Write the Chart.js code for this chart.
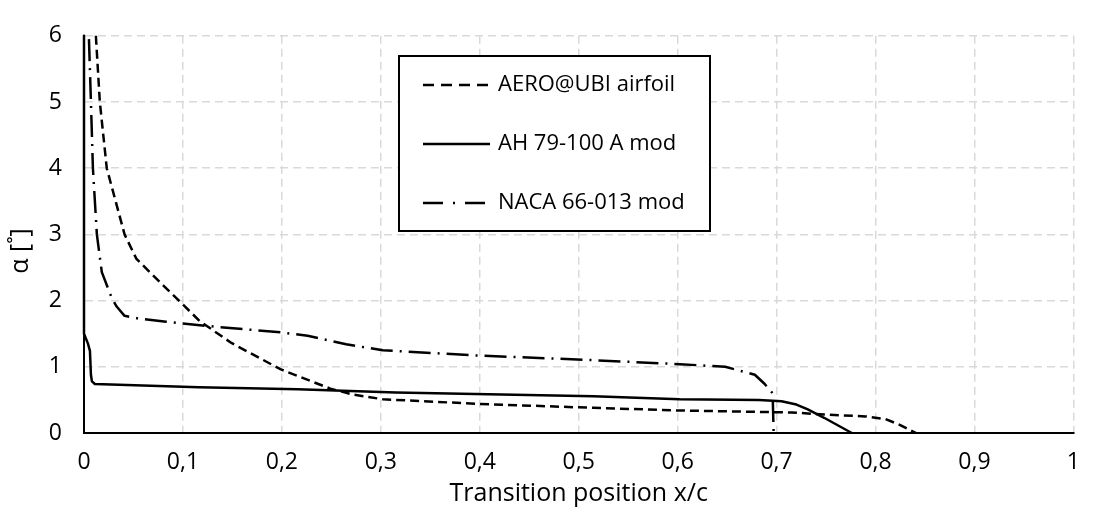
<!DOCTYPE html>
<html><head><meta charset="utf-8">
<script src="https://cdn.jsdelivr.net/npm/chart.js@4.4.0/dist/chart.umd.min.js"></script>
<style>html,body{margin:0;padding:0;background:#fff;}</style>
</head><body>
<canvas id="c" width="1096" height="509"></canvas>
<script>
// ---- data ----
const seriesNames = ['AERO@UBI airfoil', 'AH 79-100 A mod', 'NACA 66-013 mod'];

const aeroX = [0.012, 0.016, 0.023, 0.041, 0.053, 0.080, 0.100, 0.117, 0.149, 0.199, 0.249, 0.272, 0.302, 0.398, 0.515, 0.602, 0.715, 0.748, 0.790, 0.810, 0.825, 0.841];
const aeroY = [6.00, 5.00, 4.00, 3.00, 2.63, 2.23, 1.94, 1.69, 1.36, 0.96, 0.67, 0.58, 0.51, 0.44, 0.38, 0.34, 0.31, 0.28, 0.25, 0.21, 0.12, 0.00];

const ahX = [0.000, 0.000, 0.004, 0.006, 0.007, 0.008, 0.011, 0.116, 0.216, 0.315, 0.515, 0.602, 0.682, 0.705, 0.720, 0.731, 0.748, 0.776];
const ahY = [6.00, 1.50, 1.35, 1.24, 0.88, 0.78, 0.74, 0.69, 0.66, 0.61, 0.555, 0.51, 0.50, 0.48, 0.43, 0.36, 0.23, 0.00];

const nacaX = [0.005, 0.007, 0.009, 0.013, 0.018, 0.028, 0.033, 0.041, 0.055, 0.083, 0.122, 0.199, 0.226, 0.265, 0.302, 0.398, 0.515, 0.602, 0.648, 0.678, 0.688, 0.696, 0.697];
const nacaY = [5.95, 5.00, 4.00, 3.00, 2.43, 2.04, 1.91, 1.77, 1.73, 1.68, 1.62, 1.52, 1.47, 1.34, 1.25, 1.17, 1.10, 1.04, 1.00, 0.88, 0.74, 0.60, 0.00];

const xTickLabels = ['0', '0,1', '0,2', '0,3', '0,4', '0,5', '0,6', '0,7', '0,8', '0,9', '1'];
const yTickLabels = ['0', '1', '2', '3', '4', '5', '6'];
const xTitle = 'Transition position x/c';
const yTitle = 'α [˚]';

// ---- build ----
const toPts = (xs, ys) => xs.map((x, i) => ({x: x, y: ys[i]}));
const FONT = 'Open Sans';
const TXT = '#000';

const dashes = [[9, 5], [], [22, 7, 2, 7]];
const legendDashes = [[11, 7], [], [20, 10, 2, 10]];

const legendPlugin = {
  id: 'boxLegend',
  afterDatasetsDraw(chart) {
    const ctx = chart.ctx;
    const bx = 399, by = 56, bw = 311, bh = 175;
    ctx.save();
    ctx.fillStyle = '#fff';
    ctx.fillRect(bx, by, bw, bh);
    ctx.lineWidth = 2;
    ctx.strokeStyle = '#000';
    ctx.strokeRect(bx, by, bw, bh);
    const rows = [85, 144, 203];
    chart.data.datasets.forEach((ds, i) => {
      const y = rows[i];
      ctx.beginPath();
      ctx.setLineDash(legendDashes[i]);
      ctx.lineWidth = 2.5;
      ctx.strokeStyle = '#000';
      ctx.moveTo(423, y);
      ctx.lineTo(490, y);
      ctx.stroke();
      ctx.setLineDash([]);
      ctx.fillStyle = TXT;
      ctx.font = '22px "' + FONT + '"';
      ctx.textBaseline = 'middle';
      ctx.textAlign = 'left';
      ctx.fillText(ds.label, 498, y);
    });
    ctx.restore();
  }
};

const yTitlePlugin = {
  id: 'yTitleDraw',
  afterDraw(chart) {
    const ctx = chart.ctx;
    ctx.save();
    ctx.translate(21, 251);
    ctx.rotate(-Math.PI / 2);
    ctx.fillStyle = TXT;
    ctx.font = '25px "' + FONT + '"';
    ctx.textAlign = 'center';
    ctx.textBaseline = 'middle';
    ctx.fillText(yTitle, 0, 0);
    ctx.restore();
  }
};

const datasets = [
  {label: seriesNames[0], data: toPts(aeroX, aeroY), borderDash: dashes[0]},
  {label: seriesNames[1], data: toPts(ahX, ahY), borderDash: dashes[1]},
  {label: seriesNames[2], data: toPts(nacaX, nacaY), borderDash: dashes[2]}
].map(d => Object.assign(d, {
  borderColor: '#000', borderWidth: 2.5, pointRadius: 0, tension: 0,
  fill: false, clip: 6, borderCapStyle: 'butt', borderJoinStyle: 'round'
}));

new Chart(document.getElementById('c'), {
  type: 'line',
  data: {datasets: datasets},
  options: {
    responsive: false,
    animation: false,
    devicePixelRatio: 1,
    layout: {padding: {top: 22, right: 10, left: 0, bottom: 0}},
    plugins: {legend: {display: false}, tooltip: {enabled: false}},
    scales: {
      x: {
        type: 'linear', min: 0, max: 1,
        afterFit: s => { s.height = 76; },
        ticks: {
          stepSize: 0.1, padding: 16, color: TXT,
          font: {family: FONT, size: 23},
          callback: (v, i) => xTickLabels[i]
        },
        grid: {color: '#d9d9d9', lineWidth: 1.5, drawTicks: false},
        border: {display: true, color: '#000', width: 2, dash: [8, 5]},
        title: {display: true, text: xTitle, color: TXT, font: {family: FONT, size: 25}, padding: {top: 0, bottom: 0}}
      },
      y: {
        type: 'linear', min: 0, max: 6,
        afterFit: s => { s.width = 84; },
        ticks: {
          stepSize: 1, padding: 22, color: TXT,
          font: {family: FONT, size: 23},
          callback: (v, i) => yTickLabels[i]
        },
        grid: {color: '#d9d9d9', lineWidth: 1.5, drawTicks: false},
        border: {display: true, color: '#000', width: 2, dash: [8, 5]},
        title: {display: false}
      }
    }
  },
  plugins: [legendPlugin, yTitlePlugin]
});
</script>
</body></html>
